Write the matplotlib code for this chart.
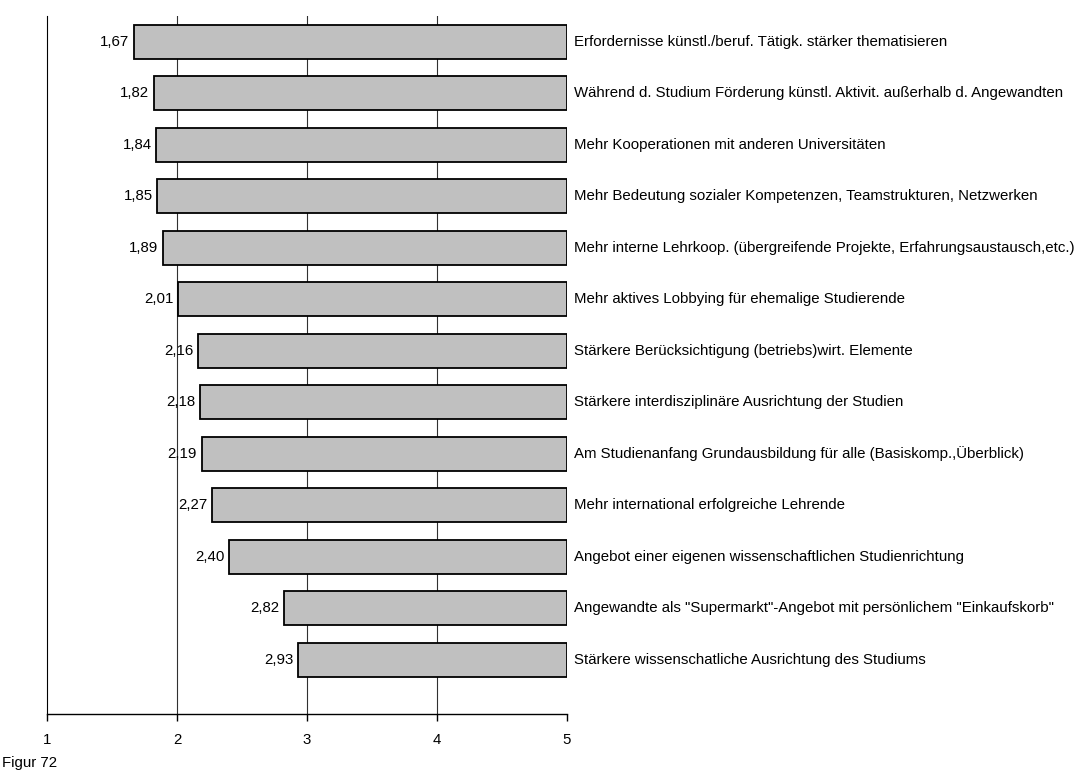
import matplotlib.pyplot as plt

plt.rcParams['font.family'] = ['Liberation Sans', 'DejaVu Sans']

labels = [
    "Erfordernisse künstl./beruf. Tätigk. stärker thematisieren",
    "Während d. Studium Förderung künstl. Aktivit. außerhalb d. Angewandten",
    "Mehr Kooperationen mit anderen Universitäten",
    "Mehr Bedeutung sozialer Kompetenzen, Teamstrukturen, Netzwerken",
    "Mehr interne Lehrkoop. (übergreifende Projekte, Erfahrungsaustausch,etc.)",
    "Mehr aktives Lobbying für ehemalige Studierende",
    "Stärkere Berücksichtigung (betriebs)wirt. Elemente",
    "Stärkere interdisziplinäre Ausrichtung der Studien",
    "Am Studienanfang Grundausbildung für alle (Basiskomp.,Überblick)",
    "Mehr international erfolgreiche Lehrende",
    "Angebot einer eigenen wissenschaftlichen Studienrichtung",
    "Angewandte als \"Supermarkt\"-Angebot mit persönlichem \"Einkaufskorb\"",
    "Stärkere wissenschatliche Ausrichtung des Studiums",
]
values = [1.67, 1.82, 1.84, 1.85, 1.89, 2.01, 2.16, 2.18, 2.19, 2.27, 2.40, 2.82, 2.93]
xticks = [1, 2, 3, 4, 5]

fig = plt.figure(figsize=(10.82, 7.74), dpi=100)
ax = fig.add_axes([0.0434, 0.0775, 0.4806, 0.9018])

pos = list(range(len(values)))
ax.barh(pos, [5 - v for v in values], left=values, height=0.66,
        color="#c0c0c0", edgecolor="black", linewidth=1.3, zorder=2)

for i, v in enumerate(values):
    ax.text(v - 0.035, i, f"{v:.2f}".replace(".", ","), ha="right", va="center",
            fontsize=10.8, zorder=3)
    ax.text(5.055, i, labels[i], ha="left", va="center", fontsize=10.8, clip_on=False)

ax.set_xlim(1, 5)
ax.set_ylim(13.05, -0.5)
ax.set_xticks(xticks)
ax.set_xticklabels([str(t) for t in xticks], fontsize=10.8)
ax.set_yticks([])
for t in [2, 3, 4]:
    ax.axvline(t, color="#303030", linewidth=0.8, zorder=1)

for s in ["top", "right"]:
    ax.spines[s].set_visible(False)
ax.spines["left"].set_linewidth(0.8)
ax.spines["bottom"].set_linewidth(1.0)
ax.tick_params(axis="x", direction="out", length=5, width=1.0, pad=9)

fig.text(0.002, 0.0142, "Figur 72", fontsize=10.8, ha="left", va="center")

fig.savefig("out.png", dpi=100)
